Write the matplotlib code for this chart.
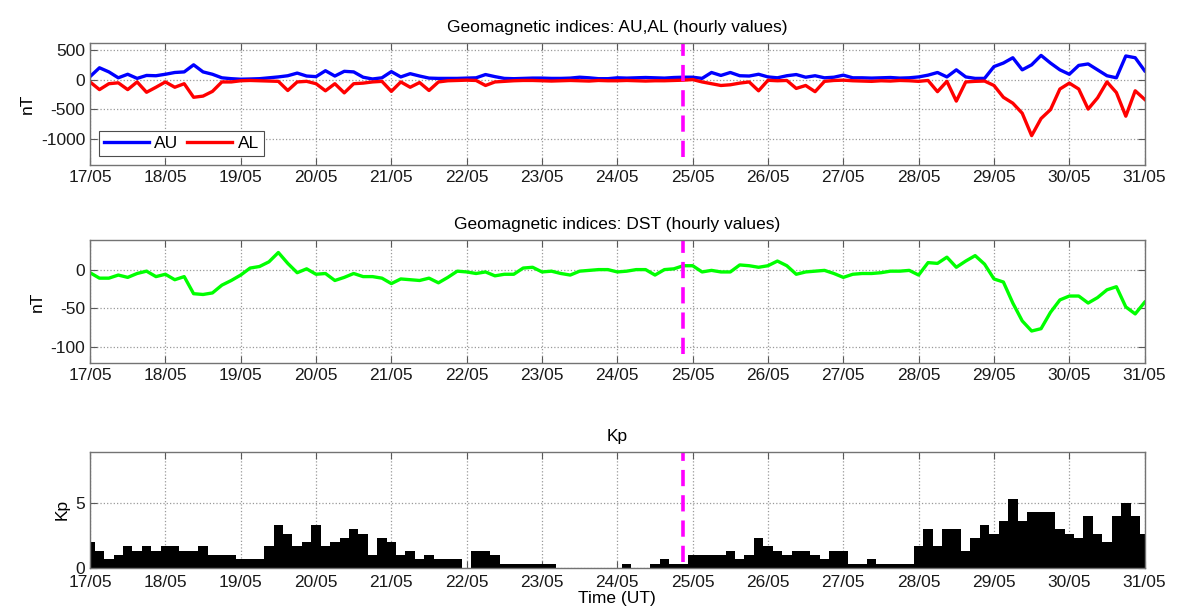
## Geomagnetic indices plot: AU/AL, DST and Kp (3-hourly readings)
import matplotlib
matplotlib.use('Agg')
import matplotlib.pyplot as plt
import matplotlib.dates as mdates
import numpy as np
import pandas as pd

plt.rcParams['font.family'] = ['Liberation Sans', 'DejaVu Sans']
plt.rcParams['font.size'] = 12.5
plt.rcParams['axes.unicode_minus'] = False

# 3-hourly time stamps, 17/05 00UT .. 31/05 00UT
times = pd.date_range('2015-05-17 00:00', '2015-05-31 00:00', freq='3h')

au = [50, 200, 130, 30, 90, 20, 70, 65,
      90, 120, 130, 250, 130, 90, 30, 15,
      6, 10, 15, 30, 45, 65, 110, 60,
      50, 150, 60, 140, 130, 40, 10, 30,
      135, 45, 100, 60, 25, 20, 20, 20,
      25, 30, 85, 50, 20, 15, 20, 25,
      25, 20, 20, 25, 40, 30, 15, 15,
      30, 25, 30, 35, 30, 25, 35, 40,
      40, 20, 120, 70, 120, 65, 60, 90,
      45, 30, 65, 85, 40, 65, 30, 40,
      75, 30, 30, 25, 30, 35, 25, 30,
      45, 75, 120, 45, 165, 45, 20, 20,
      220, 280, 370, 165, 250, 410, 280, 165,
      90, 240, 265, 165, 65, 30, 400, 370,
      150]

al = [-40, -170, -70, -55, -170, -40, -215, -130,
      -40, -130, -70, -300, -280, -200, -40, -40,
      -20, -15, -20, -25, -30, -185, -40, -30,
      -70, -190, -70, -225, -70, -60, -40, -30,
      -200, -40, -130, -50, -185, -40, -20, -15,
      -10, -15, -100, -40, -30, -20, -15, -15,
      -20, -25, -20, -15, -20, -25, -15, -20,
      -20, -15, -20, -25, -20, -20, -15, -10,
      0, -40, -70, -100, -88, -60, -40, -190,
      -12, -20, -15, -150, -100, -205, -30, -15,
      -10, -20, -25, -30, -20, -25, -15, -20,
      -30, -15, -205, -30, -365, -40, -30, -25,
      -100, -300, -400, -570, -950, -660, -510, -160,
      -60, -160, -500, -310, -40, -220, -620, -190,
      -335]

dst = [-4, -11, -11, -7, -10, -5, -2, -9,
       -6, -13, -9, -31, -32, -30, -20, -14,
       -7, 2, 4, 10, 22, 8, -4, 1,
       -6, -5, -14, -10, -5, -9, -9, -11,
       -18, -12, -13, -14, -11, -17, -10, -2,
       -3, -5, -3, -8, -6, -6, 2, 3,
       -3, -2, -5, -7, -2, -1, 0, 0,
       -3, -2, 0, 0, -7, 0, 1, 5,
       5, -3, -1, -3, -3, 6, 5, 3,
       5, 11, 5, -6, -3, -2, -1, -5,
       -10, -6, -5, -5, -4, -2, -2, -1,
       -7, 9, 8, 16, 3, 11, 18, 7,
       -12, -16, -43, -66, -79, -76, -55, -39,
       -34, -34, -43, -36, -26, -22, -48, -57,
       -42]

kp = [2.0, 1.33, 0.67, 1.0, 1.67, 1.33, 1.67, 1.33,
      1.67, 1.67, 1.33, 1.33, 1.67, 1.0, 1.0, 1.0,
      0.67, 0.67, 0.67, 1.67, 3.33, 2.67, 1.67, 2.0,
      3.33, 1.67, 2.0, 2.33, 3.0, 2.67, 1.0, 2.33,
      2.0, 1.0, 1.33, 0.67, 1.0, 0.67, 0.67, 0.67,
      0.0, 1.33, 1.33, 1.0, 0.33, 0.33, 0.33, 0.33,
      0.33, 0.33, 0.0, 0.0, 0.0, 0.0, 0.0, 0.0,
      0.0, 0.33, 0.0, 0.0, 0.33, 0.67, 0.33, 0.33,
      1.0, 1.0, 1.0, 1.0, 1.33, 0.67, 1.0, 2.33,
      1.67, 1.33, 1.0, 1.33, 1.33, 1.0, 0.67, 1.33,
      1.33, 0.33, 0.33, 0.67, 0.33, 0.33, 0.33, 0.33,
      1.67, 3.0, 1.67, 3.0, 3.0, 1.33, 2.33, 3.33,
      2.67, 3.67, 5.33, 3.67, 4.33, 4.33, 4.33, 3.0,
      2.67, 2.33, 4.0, 2.67, 2.0, 4.0, 5.0, 4.0,
      2.67]

event_time = pd.Timestamp('2015-05-24 21:00')
xstart = pd.Timestamp('2015-05-17 00:00')
xend = pd.Timestamp('2015-05-31 00:00')

fig = plt.figure(figsize=(11.77, 6.14), dpi=100)
ax1 = fig.add_axes([0.0765, 0.731, 0.896, 0.199])
ax2 = fig.add_axes([0.0765, 0.409, 0.896, 0.200])
ax3 = fig.add_axes([0.0765, 0.075, 0.896, 0.189])

def style(ax):
    ax.set_xlim(xstart, xend)
    ax.xaxis.set_major_locator(mdates.DayLocator())
    ax.xaxis.set_major_formatter(mdates.DateFormatter('%d/%m'))
    ax.grid(True, linestyle=':', color='0.6', linewidth=0.9)
    ax.tick_params(direction='in', top=True, right=True, length=5,
                   color='0.35', labelcolor='0.1')
    for s in ax.spines.values():
        s.set_color('0.45')
        s.set_linewidth(1.0)
    ax.set_axisbelow(True)

# AU / AL
ax1.plot(times, au, color='#0000ff', lw=2.4, label='AU')
ax1.plot(times, al, color='#ff0000', lw=2.4, label='AL')
ax1.plot([event_time, event_time], [-1310, 700], color='#ff00ff', lw=2.6, dashes=(4.5, 2.5))
ax1.set_ylim(-1450, 620)
ax1.set_yticks([-1000, -500, 0, 500])
ax1.set_ylabel('nT')
ax1.set_title('Geomagnetic indices: AU,AL (hourly values)', fontsize=12.5, pad=8)
leg = ax1.legend(loc='lower left', ncol=2, fancybox=False, framealpha=1,
                 edgecolor='0.3', handlelength=2.6, columnspacing=0.5,
                 handletextpad=0.3, borderpad=0.3, borderaxespad=0.5)
leg.get_frame().set_linewidth(0.8)
style(ax1)

# DST
ax2.plot(times, dst, color='#00ff00', lw=2.4)
ax2.plot([event_time, event_time], [-109, 50], color='#ff00ff', lw=2.6, dashes=(4.5, 2.5))
ax2.set_ylim(-120, 38)
ax2.set_yticks([-100, -50, 0])
ax2.set_ylabel('nT')
ax2.set_title('Geomagnetic indices: DST (hourly values)', fontsize=12.5, pad=8)
style(ax2)

# Kp
ax3.bar(times, kp, width=0.125, color='black', align='center')
ax3.plot([event_time, event_time], [0.5, 9.5], color='#ff00ff', lw=2.6, dashes=(4.5, 2.5))
ax3.set_ylim(0, 9)
ax3.set_yticks([0, 5])
ax3.set_ylabel('Kp')
ax3.set_xlabel('Time (UT)', labelpad=1)
ax3.set_title('Kp', fontsize=12.5, pad=8)
style(ax3)
ax3.tick_params(axis='x', pad=5)

plt.savefig('out.png', dpi=100)
